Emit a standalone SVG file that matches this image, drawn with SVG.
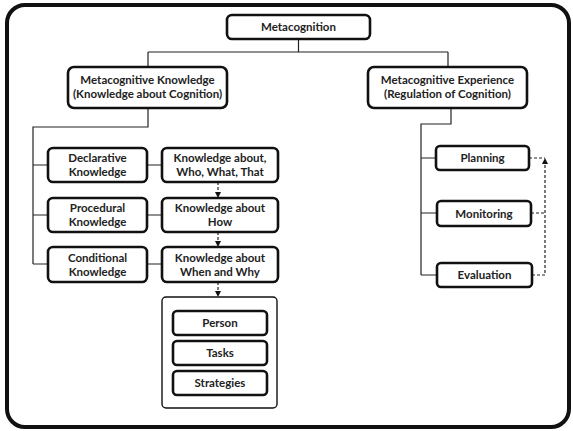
<svg xmlns="http://www.w3.org/2000/svg" width="573" height="431" viewBox="0 0 573 431">
<defs>
<marker id="ah" viewBox="0 0 10 10" refX="10" refY="5" markerWidth="6" markerHeight="6" orient="auto" markerUnits="userSpaceOnUse">
<path d="M0,0 L10,5 L0,10 z" fill="#111"/>
</marker>
</defs>
<style>
.box{fill:#fff;stroke:#111;stroke-width:2.6}
.cont{fill:#fff;stroke:#111;stroke-width:1.4}
.ln{fill:none;stroke:#222;stroke-width:1.2}
.dash{fill:none;stroke:#222;stroke-width:1.2;stroke-dasharray:3,2}
text{font-family:Lato,"Liberation Sans",sans-serif;font-weight:700;font-size:11.5px;fill:#222;text-anchor:middle}
</style>
<rect x="7" y="5" width="562" height="422" rx="18" fill="#fff" stroke="#111" stroke-width="4"/>
<g id="connectors">
<path class="ln" d="M298.5,39 V52 M148,52 H448 M148,52 V67 M448,52 V67"/>
<path class="ln" d="M148,108 V127 H33 V264 M33,165 H48 M33,215 H48 M33,264 H48"/>
<path class="ln" d="M147,165 H162 M147,215 H162 M147,264 H162"/>
<path class="ln" d="M451,108 V124 H421 V275 M421,158 H436 M421,213 H437 M421,275 H437"/>
<path class="dash" d="M218,182 V198" marker-end="url(#ah)"/>
<path class="dash" d="M218,232 V247" marker-end="url(#ah)"/>
<path class="dash" d="M218,282 V297" marker-end="url(#ah)"/>
<path class="dash" d="M529,158 H545 M531,213 H545 M532,275 H545 V158" marker-end="url(#ah)"/>
</g>
<g id="metacognition"><rect class="box" x="227" y="15" width="143" height="24" rx="5"/><text x="298.5" y="31">Metacognition</text></g>
<g id="mk"><rect class="box" x="68" y="67" width="159" height="41" rx="6"/><text x="147.5" y="84">Metacognitive Knowledge</text><text x="147.5" y="98">(Knowledge about Cognition)</text></g>
<g id="me"><rect class="box" x="368" y="67" width="159" height="41" rx="6"/><text x="447.5" y="84">Metacognitive Experience</text><text x="447.5" y="98">(Regulation of Cognition)</text></g>
<g id="declarative"><rect class="box" x="48" y="148" width="99" height="34" rx="5"/><text x="97.5" y="162">Declarative</text><text x="97.5" y="176">Knowledge</text></g>
<g id="procedural"><rect class="box" x="48" y="198" width="99" height="34" rx="5"/><text x="97.5" y="212">Procedural</text><text x="97.5" y="226">Knowledge</text></g>
<g id="conditional"><rect class="box" x="48" y="247" width="99" height="35" rx="5"/><text x="97.5" y="262">Conditional</text><text x="97.5" y="276">Knowledge</text></g>
<g id="kwho"><rect class="box" x="162" y="148" width="116" height="34" rx="5"/><text x="220" y="162">Knowledge about,</text><text x="220" y="176">Who, What, That</text></g>
<g id="khow"><rect class="box" x="162" y="198" width="116" height="34" rx="5"/><text x="220" y="212">Knowledge about</text><text x="220" y="226">How</text></g>
<g id="kwhen"><rect class="box" x="162" y="247" width="116" height="35" rx="5"/><text x="220" y="262">Knowledge about</text><text x="220" y="276">When and Why</text></g>
<g id="container"><rect class="cont" x="162" y="297" width="115" height="111" rx="4"/></g>
<g id="person"><rect class="box" x="173" y="311" width="94" height="24" rx="4"/><text x="220" y="327">Person</text></g>
<g id="tasks"><rect class="box" x="173" y="341" width="94" height="24" rx="4"/><text x="220" y="357">Tasks</text></g>
<g id="strategies"><rect class="box" x="173" y="371" width="94" height="24" rx="4"/><text x="220" y="387">Strategies</text></g>
<g id="planning"><rect class="box" x="436" y="146" width="93" height="24" rx="4"/><text x="482.5" y="162">Planning</text></g>
<g id="monitoring"><rect class="box" x="437" y="201" width="94" height="25" rx="4"/><text x="484" y="218">Monitoring</text></g>
<g id="evaluation"><rect class="box" x="437" y="263" width="95" height="24" rx="4"/><text x="484.5" y="279">Evaluation</text></g>
</svg>
